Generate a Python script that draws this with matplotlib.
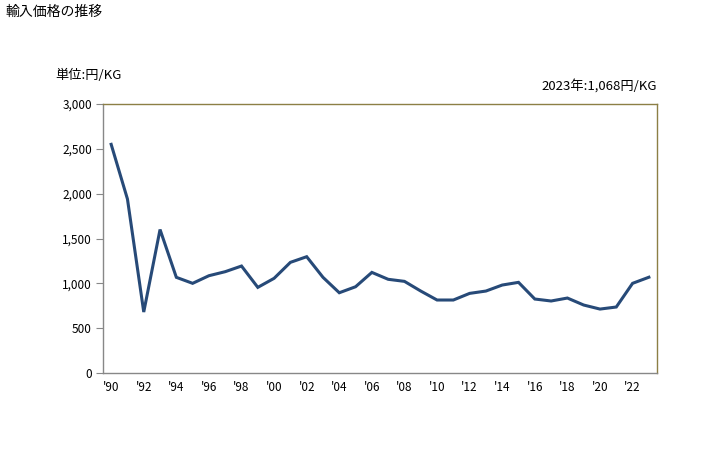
import matplotlib
matplotlib.use("Agg")
import matplotlib.pyplot as plt
from matplotlib.ticker import FuncFormatter

plt.rcParams['font.family'] = ['Noto Sans CJK JP', 'DejaVu Sans']

years = list(range(1990, 2024))
prices = [2550, 1940, 680, 1600, 1067, 1000, 1085, 1130, 1193, 955,
          1056, 1234, 1297, 1067, 895, 962, 1122, 1045, 1022, 914,
          814, 814, 888, 914, 981, 1011, 825, 803, 836, 758,
          713, 736, 1000, 1068]
xtick_years = list(range(1990, 2023, 2))
xtick_labels = ["'%02d" % (y % 100) for y in xtick_years]

fig = plt.figure(figsize=(7.28, 4.5), dpi=100)
ax = fig.add_axes([0.1415, 0.1711, 0.761, 0.5978])

ax.plot(years, prices, color="#274a78", linewidth=2.2, solid_joinstyle="miter")

ax.set_xlim(1989.5, 2023.5)
ax.set_ylim(0, 3000)
ax.set_yticks(range(0, 3001, 500))
ax.yaxis.set_major_formatter(FuncFormatter(lambda v, p: f"{int(v):,}"))
ax.set_xticks(xtick_years)
ax.set_xticklabels(xtick_labels)
ax.tick_params(axis="x", length=0, pad=6, labelsize=8.5)
ax.tick_params(axis="y", length=5, width=0.8, color="#888888", labelsize=8.5, pad=3)

for side in ("left", "bottom"):
    ax.spines[side].set_color("#888888")
for side in ("top", "right"):
    ax.spines[side].set_color("#8c7f45")
for s in ax.spines.values():
    s.set_linewidth(1.0)

fig.text(5 / 728, 1 - 12 / 450, "輸入価格の推移", fontsize=10, va="center", ha="left")
fig.text(55 / 728, 1 - 75 / 450, "単位:円/KG", fontsize=9.5, va="center", ha="left")
fig.text(657 / 728, 1 - 86 / 450, "2023年:1,068円/KG", fontsize=9.5, va="center", ha="right")

fig.savefig("out.png", dpi=100)
